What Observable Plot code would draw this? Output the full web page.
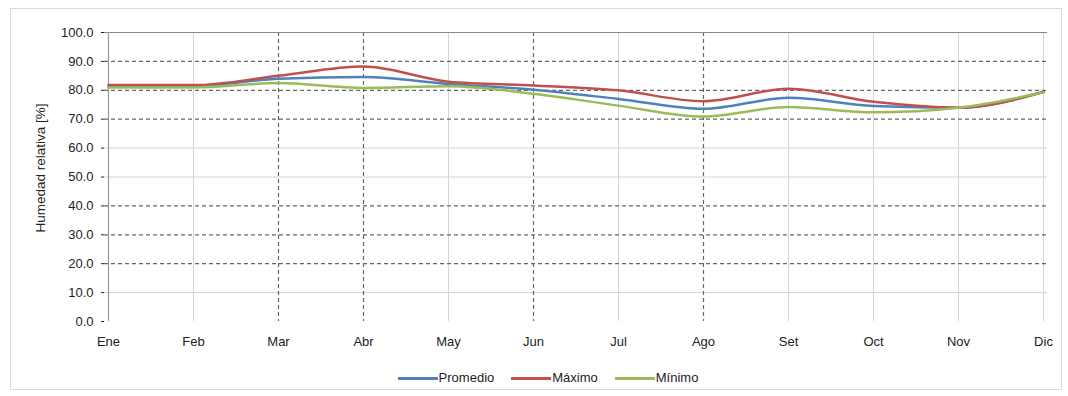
<!DOCTYPE html>
<html>
<head>
<meta charset="utf-8">
<script src="https://cdn.jsdelivr.net/npm/d3@7"></script>
<script src="https://cdn.jsdelivr.net/npm/@observablehq/plot@0.6"></script>
<style>
  html, body { margin: 0; padding: 0; background: #fff; }
  body { width: 1068px; height: 396px; position: relative; overflow: hidden; font-family: "Liberation Sans", Arial, sans-serif; }
  #frame { position: absolute; left: 10px; top: 8px; width: 1052px; height: 382px; border: 1px solid #d9d9d9; box-sizing: border-box; }
  #chart { position: absolute; left: 0; top: 0; }
  #legend { position: absolute; left: 0; width: 1096px; top: 370px; display: flex; justify-content: center; gap: 17px; font-size: 13px; color: #222; line-height: 16px; }
  .item { display: flex; align-items: center; gap: 1px; }
  .sw { width: 40px; height: 3px; display: inline-block; }
</style>
</head>
<body>
<div id="frame"></div>
<div id="chart"></div>
<div id="legend"></div>
<script>
const months = ["Ene","Feb","Mar","Abr","May","Jun","Jul","Ago","Set","Oct","Nov","Dic"];
const promedio = [81.5, 81.5, 84.0, 84.6, 82.2, 80.2, 77.0, 73.6, 77.4, 74.6, 74.0, 79.4];
const maximo   = [81.8, 81.8, 85.0, 88.2, 83.0, 81.7, 80.0, 76.2, 80.5, 76.0, 74.0, 79.5];
const minimo   = [81.0, 81.0, 82.5, 80.8, 81.4, 78.8, 74.7, 70.9, 74.2, 72.4, 74.0, 79.3];
const seriesNames = ["Promedio", "Máximo", "Mínimo"];
const seriesColors = ["#4F81BD", "#C0504D", "#9BBB59"];
const yTicks = [0,10,20,30,40,50,60,70,80,90,100];
const dashedY = [90,80,70,40,30,20];
const lightY = [60,50,10];
const dashedX = ["Mar","Abr","Jun","Ago"];
const lightX = ["Feb","May","Jul","Set","Oct","Nov","Dic"];
const yLabel = "Humedad relativa [%]";

const seriesValues = [promedio, maximo, minimo];
const data = [];
seriesNames.forEach((s, i) => months.forEach((m, j) => data.push({serie: s, mes: m, valor: seriesValues[i][j]})));

const chart = Plot.plot({
  width: 1068,
  height: 356,
  marginLeft: 104,
  marginRight: 21,
  marginTop: 32,
  marginBottom: 35,
  style: { fontFamily: "Liberation Sans, Arial, sans-serif", fontSize: "13px", color: "#222", background: "transparent" },
  x: { type: "point", domain: months, padding: 0 },
  y: { domain: [0, 100] },
  color: { domain: seriesNames, range: seriesColors },
  marks: [
    Plot.ruleY(lightY, { stroke: "#d4d4d4", strokeWidth: 1 }),
    Plot.ruleX(lightX, { stroke: "#d4d4d4", strokeWidth: 1 }),
    Plot.ruleY(dashedY, { stroke: "#666", strokeWidth: 1.2, strokeDasharray: "4,3" }),
    Plot.ruleX(dashedX, { stroke: "#666", strokeWidth: 1.2, strokeDasharray: "4,3" }),
    Plot.ruleY([100], { stroke: "#888", strokeWidth: 1.2 }),
    Plot.ruleX(["Ene"], { stroke: "#999", strokeWidth: 1.2 }),
    Plot.axisY({ ticks: yTicks, tickFormat: d => d.toFixed(1), tickSize: 3, tickPadding: 8, label: null }),
    Plot.text([yLabel], { text: d => d, frameAnchor: "left", textAnchor: "middle", dx: -64, dy: -9, rotate: -90, fontSize: 13.5, fill: "#222" }),
    Plot.axisX({ tickSize: 0, tickPadding: 15, label: null }),
    Plot.line(data, { x: "mes", y: "valor", stroke: "serie", z: "serie", strokeWidth: 2.5, curve: "monotone-x" })
  ]
});
document.getElementById("chart").appendChild(chart);

const legend = document.getElementById("legend");
seriesNames.forEach((s, i) => {
  const it = document.createElement("div");
  it.className = "item";
  const sw = document.createElement("span");
  sw.className = "sw";
  sw.style.background = seriesColors[i];
  const t = document.createElement("span");
  t.textContent = s;
  it.appendChild(sw); it.appendChild(t);
  legend.appendChild(it);
});
</script>
</body>
</html>
